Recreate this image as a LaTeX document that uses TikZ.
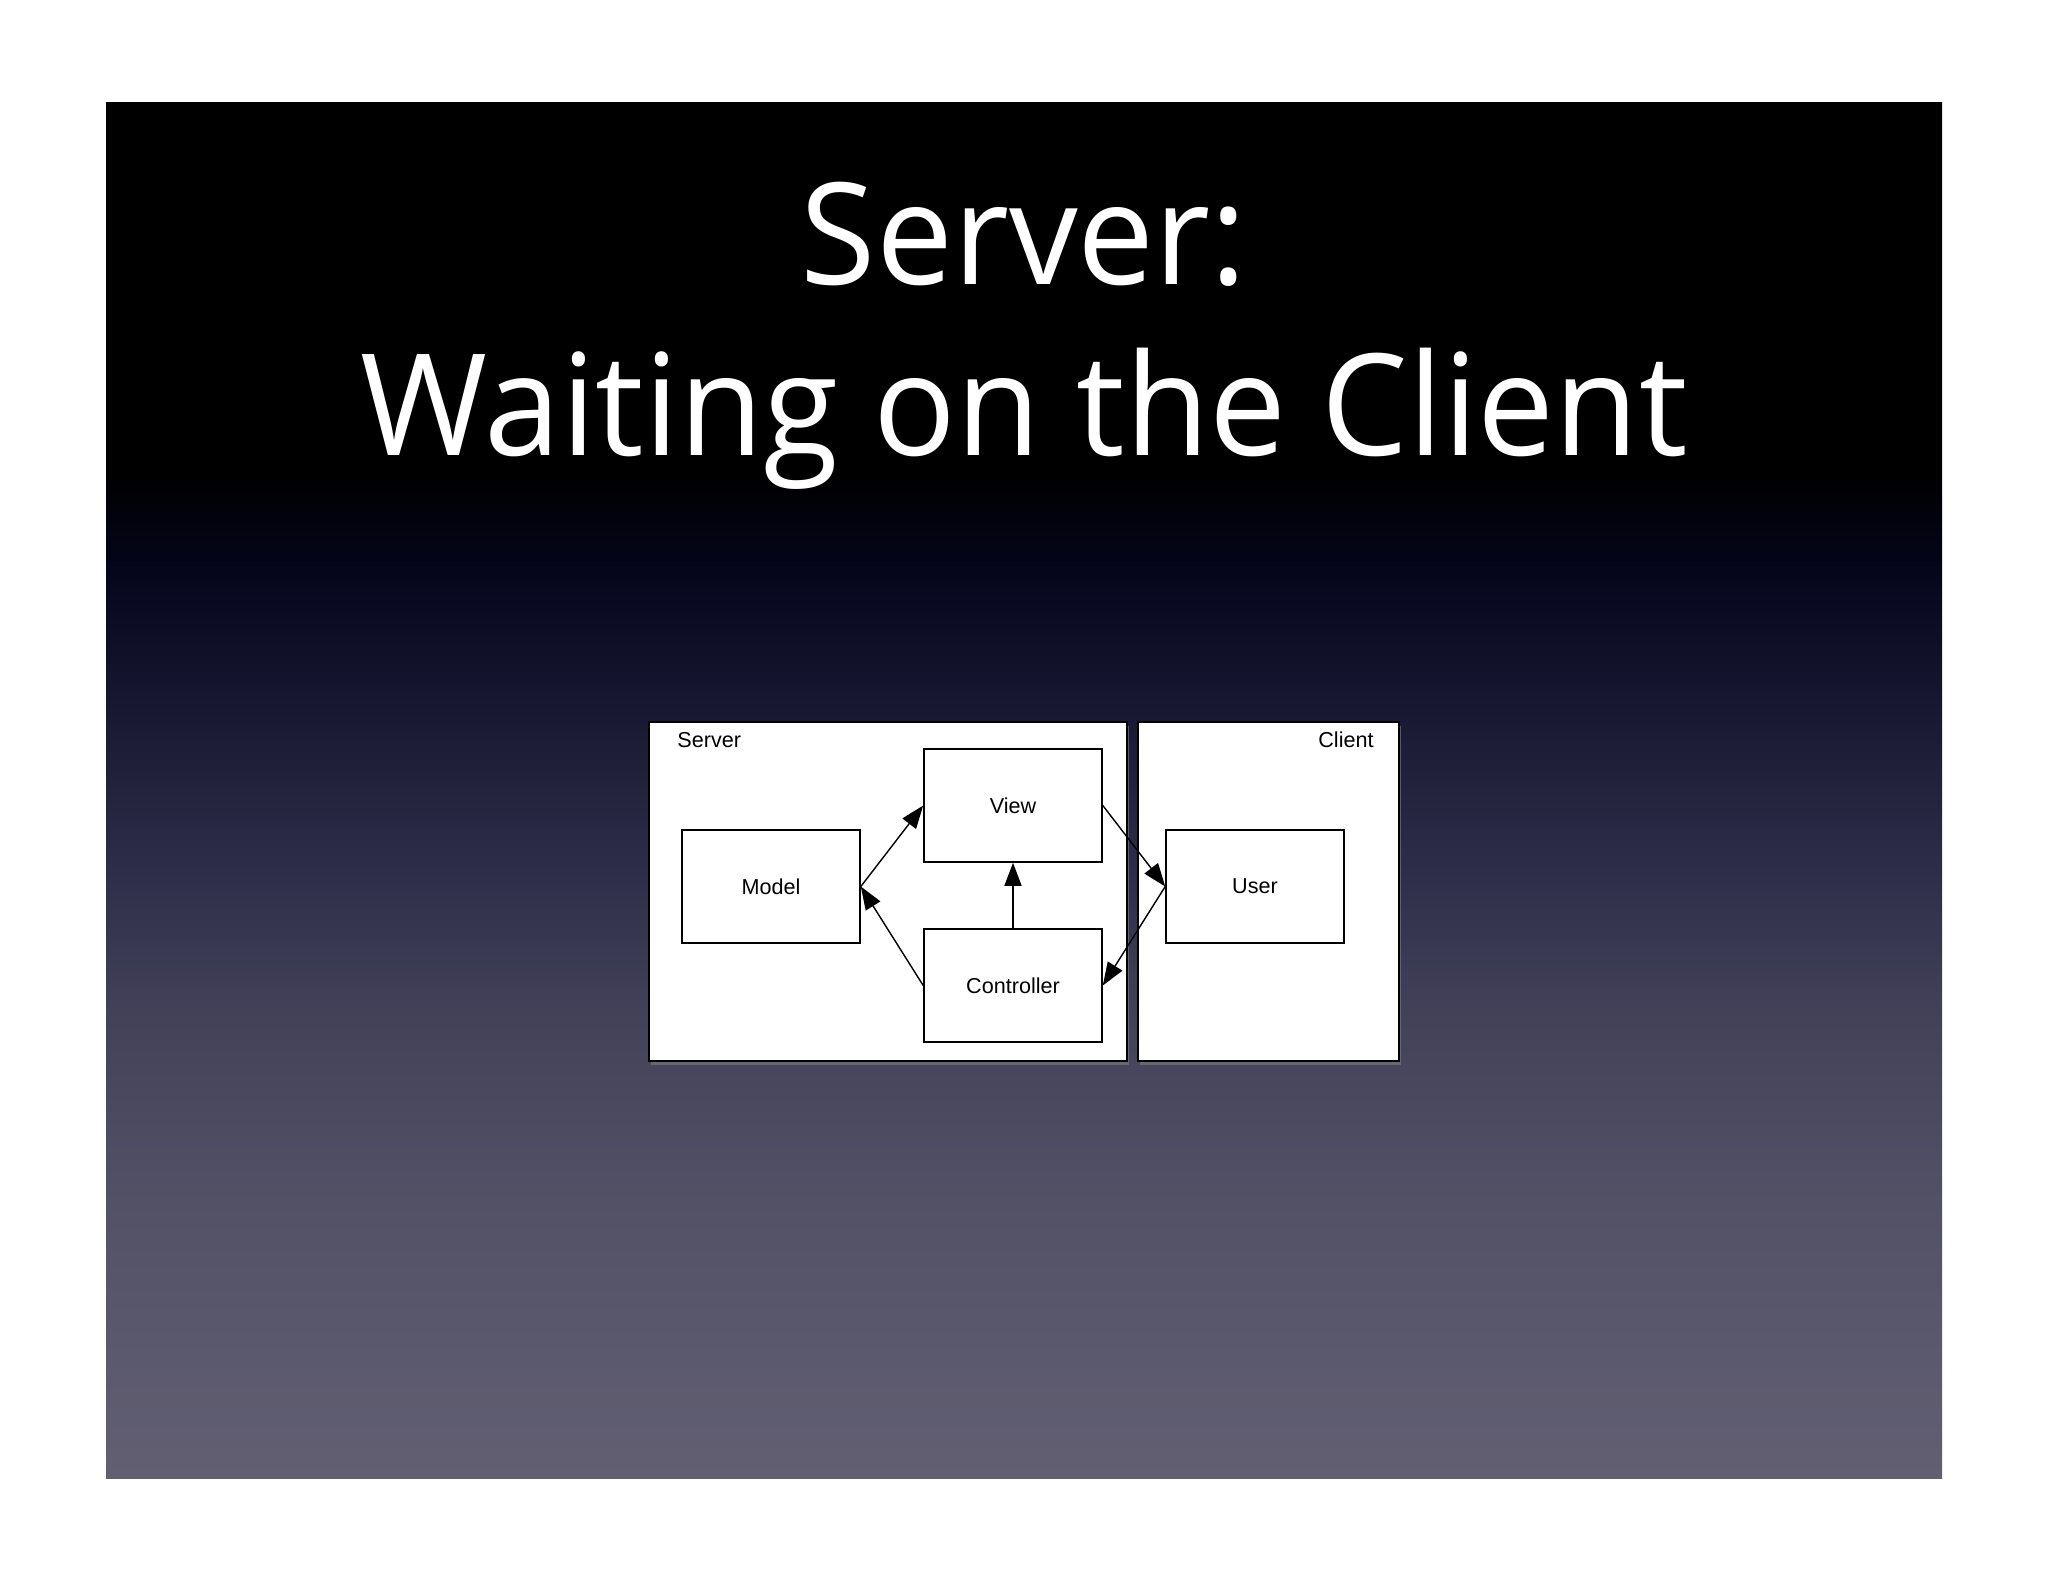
\documentclass[tikz,border=0pt]{standalone}
\usepackage{fontspec}
\usepackage{graphicx}
\setmainfont{Liberation Sans}
\newfontfamily\titlefont{Open Sans}
\usetikzlibrary{arrows.meta,shadows}
\definecolor{bgA}{HTML}{625F73}
\definecolor{bgB}{HTML}{535166}
\definecolor{bgC}{HTML}{424158}
\definecolor{bgD}{HTML}{2F2E4A}
\definecolor{bgE}{HTML}{1A1933}
\definecolor{bgF}{HTML}{05051C}
\definecolor{bgG}{HTML}{000000}
% stops: pos = 25 + 50*(1478-y)/1375
\pgfdeclareverticalshading{slidebg}{100bp}{color(0bp)=(bgA); color(25bp)=(bgA); color(35.11bp)=(bgB); color(42.0bp)=(bgC); color(47.0bp)=(bgD); color(52.6bp)=(bgE); color(58.0bp)=(bgF); color(61.5bp)=(bgG); color(75bp)=(bgG); color(100bp)=(bgG)}
\tikzset{
  titletext/.style={text=white, font=\titlefont\fontsize{70.7pt}{80pt}\selectfont, inner sep=0pt, anchor=base},
  frame/.style={draw=black, line width=1pt, fill=white, inner sep=0pt, minimum height=169.5pt,
    drop shadow={shadow xshift=1pt, shadow yshift=-2pt, opacity=0.6}},
  compbox/.style={draw=black, line width=0.8pt, fill=white, inner sep=0pt, minimum width=89pt, minimum height=56.5pt, font=\fontsize{10.8pt}{13pt}\selectfont},
  framelabel/.style={inner sep=0pt, anchor=base, font=\fontsize{10.8pt}{13pt}\selectfont},
  conn/.style={line width=0.7pt, -{Triangle[length=11.5pt,width=8.5pt]}}
}
\begin{document}
\begin{tikzpicture}[x=0.5pt,y=-0.5pt]
\useasboundingbox[fill=white] (0,0) rectangle (2048,1582);
\shade[shading=slidebg] (106,103) rectangle (1942,1478);
\node[titletext] (t1) at (1024,285) {\scalebox{0.97}[1]{Server:}};
\node[titletext] (t2) at (1024,456) {\scalebox{0.97}[1]{Waiting on the Client}};
\node[frame, minimum width=239pt] (server) at (888,891.5) {};
\node[frame, minimum width=130.5pt] (client) at (1268.5,891.5) {};
\node[framelabel, anchor=base west] (serverlbl) at (677,747) {Server};
\node[framelabel, anchor=base east] (clientlbl) at (1374,747) {Client};
\node[compbox] (model) at (771,886.5) {Model};
\node[compbox] (view) at (1013,805.5) {View};
\node[compbox] (controller) at (1013,985.5) {Controller};
\node[compbox] (user) at (1255,886.5) {User};
\draw[conn] (model.east) -- (view.west);
\draw[conn] (controller.west) -- (model.east);
\draw[conn] (controller.north) -- (view.south);
\draw[conn] (view.east) -- (user.west);
\draw[conn] (user.west) -- (controller.east);
\end{tikzpicture}
\end{document}
